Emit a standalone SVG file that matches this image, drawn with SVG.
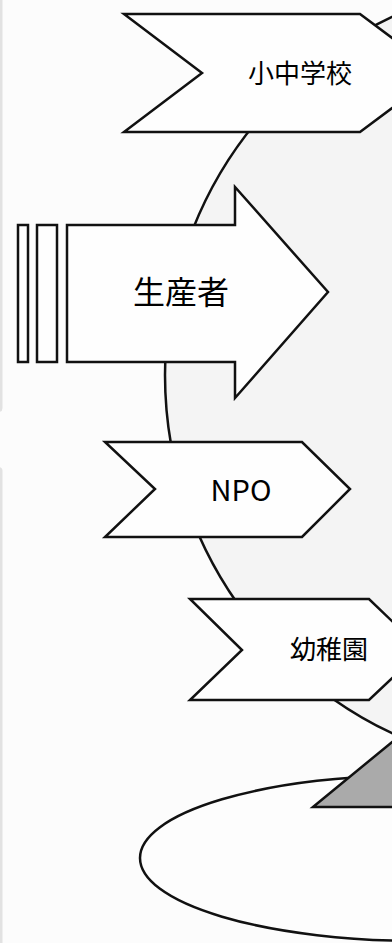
<svg xmlns="http://www.w3.org/2000/svg" width="392" height="943" viewBox="0 0 392 943">
  <style>
    .shape { fill: #fefefe; stroke: #111; stroke-width: 2.5; stroke-linejoin: miter; }
    .lbl { font-family: "Noto Sans CJK JP", "Noto Sans", sans-serif; fill: #000; text-anchor: middle; font-weight: 400; }
  </style>
  <rect x="0" y="0" width="392" height="943" fill="#fcfcfc"/>
  <g id="frame">
    <rect x="-6" y="-10" width="8.5" height="422" rx="4" fill="#e2e2e2"/>
    <rect x="-6" y="467" width="8.5" height="500" rx="4" fill="#e2e2e2"/>
  </g>
  <g id="background-shapes">
    <circle cx="561" cy="375" r="396" fill="#f4f4f4" stroke="#111" stroke-width="2.5"/>
    <ellipse cx="420" cy="858" rx="280" ry="83" fill="#fdfdfd" stroke="#111" stroke-width="2.5"/>
    <polygon points="313,807 470,678 627,807" fill="#aaaaaa" stroke="#111" stroke-width="2.5"/>
  </g>
  <g id="connectors"></g>
  <g id="node-elementary">
    <polygon class="shape" points="124,14 360,14 439,73 360,132 124,132 202,73"/>
    <text class="lbl" x="300" y="83" font-size="26">小中学校</text>
  </g>
  <g id="node-producer">
    <rect class="shape" x="18" y="225" width="10" height="137"/>
    <rect class="shape" x="37" y="225" width="20" height="137"/>
    <polygon class="shape" points="67,225 235,225 235,187 328,292 235,398 235,362 67,362"/>
    <text class="lbl" x="181" y="304" font-size="32">生産者</text>
  </g>
  <g id="node-npo">
    <polygon class="shape" points="105,442 302,442 350,489 302,537 105,537 155,489"/>
    <text class="lbl" x="241" y="501" font-size="29">NPO</text>
  </g>
  <g id="node-kindergarten">
    <polygon class="shape" points="190,599 369,599 422,650 369,700 190,700 242,650"/>
    <text class="lbl" x="329" y="659" font-size="26">幼稚園</text>
  </g>
</svg>
